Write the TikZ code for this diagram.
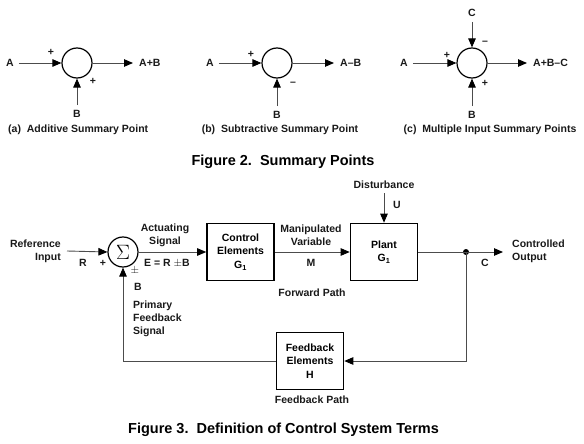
\documentclass[tikz,border=0pt]{standalone}
\usepackage{fontspec}
\setmainfont{Liberation Sans}
\usetikzlibrary{arrows.meta}
\tikzset{
	lbl/.style={font=\fontsize{10.5}{13}\selectfont\bfseries, text=black!90, inner sep=0pt},
	figcap/.style={font=\fontsize{14.5}{17}\selectfont\bfseries, inner sep=0pt},
	sumpt/.style={draw, circle, line width=1.2pt, minimum size=30pt, inner sep=0pt},
	blk/.style={draw, line width=1.6pt, minimum width=67pt, minimum height=57pt, inner sep=0pt, align=center,
		font=\fontsize{10.5}{13.5}\selectfont\bfseries},
	wire/.style={line width=0.9pt, draw=black!70},
	sig/.style={wire, -{Triangle[length=9pt,width=7.5pt,color=black]}},
}
\begin{document}
\begin{tikzpicture}[x=1pt,y=-1pt]
	\useasboundingbox (0,0) rectangle (584,444);
	
	% (a) additive
	\def\ya{63}
	\node[sumpt] (sa) at (77,\ya) {};
	\node[lbl] (aA) at (10,\ya) {A};
	\node[lbl, anchor=west] (aAB) at (139,\ya) {A+B};
	\node[lbl] (aB) at (77,114) {B};
	\draw[sig] ([xshift=5pt]aA.east) -- (sa.west);
	\draw[sig] (sa.east) -- ([xshift=-6pt]aAB.west);
	\draw[sig] ([yshift=5pt]aB.north) -- (sa.south);
	\node[lbl] (ap1) at (51,52) {+};
	\node[lbl] (ap2) at (93,81) {+};
	\node[lbl, anchor=west] (acap) at (8,130) {(a)\ \ Additive Summary Point};
	
	% (b) subtractive
	\node[sumpt] (sb) at (277,\ya) {};
	\node[lbl] (bA) at (210,\ya) {A};
	\node[lbl, anchor=west] (bAB) at (340,\ya) {A--B};
	\node[lbl] (bB) at (277,115) {B};
	\draw[sig] ([xshift=5pt]bA.east) -- (sb.west);
	\draw[sig] (sb.east) -- ([xshift=-6pt]bAB.west);
	\draw[sig] ([yshift=5pt]bB.north) -- (sb.south);
	\node[lbl] (bp1) at (251,54) {+};
	\node[lbl] (bm1) at (293,84) {--};
	\node[lbl] (bcap) at (280,130) {(b)\ \ Subtractive Summary Point};
	
	% (c) multiple input
	\node[sumpt] (sc) at (472,\ya) {};
	\node[lbl] (cA) at (404,\ya) {A};
	\node[lbl, anchor=west] (cABC) at (533,\ya) {A+B--C};
	\node[lbl] (cB) at (472,115) {B};
	\node[lbl] (cC) at (472,13) {C};
	\draw[sig] ([xshift=5pt]cA.east) -- (sc.west);
	\draw[sig] (sc.east) -- ([xshift=-6pt]cABC.west);
	\draw[sig] ([yshift=5pt]cB.north) -- (sc.south);
	\draw[sig] ([yshift=-5pt]cC.south) -- (sc.north);
	\node[lbl] (cp1) at (447,55) {+};
	\node[lbl] (cp2) at (485,83) {+};
	\node[lbl] (cm1) at (485,43) {--};
	\node[lbl] (ccap) at (490,130) {(c)\ \ Multiple Input Summary Points};
	
	\node[figcap] (fig2) at (283,162) {Figure 2.\ \ Summary Points};
	
	% Figure 3
	\def\ym{252}
	\node[sumpt] (sigma) at (123,\ym) {\fontsize{22}{22}\selectfont$\Sigma$};
	\node[blk] (ctrl) at (240.5,\ym) {Control\\Elements\\G\textsubscript{1}};
	\node[blk] (plant) at (384,\ym) {Plant\\G\textsubscript{1}};
	\node[blk] (hbox) at (310,361) {Feedback\\Elements\\H};
	\fill (466,\ym) circle (3) coordinate (dot);
	\coordinate (cout) at (503,\ym);
	
	\node[lbl, align=right, anchor=east] (ref) at (61,251) {Reference\\Input};
	\node[lbl] (lR) at (83,263) {R};
	\node[lbl] (lp) at (103,263) {+};
	\node[lbl] (lpm) at (135,271) {$\pm$};
	\node[lbl] (lB) at (138,287) {B};
	\node[lbl, align=left, anchor=north west] (prim) at (133,301) {Primary\\Feedback\\Signal};
	\node[lbl, align=center] (act) at (165,235) {Actuating\\Signal};
	\node[lbl] (eq) at (167,263) {E = R $\pm$B};
	\node[lbl, align=center] (manip) at (311,235) {Manipulated\\Variable};
	\node[lbl] (lM) at (311,263) {M};
	\node[lbl] (fwd) at (312,293) {Forward Path};
	\node[lbl] (dist) at (384,185) {Disturbance};
	\node[lbl] (lU) at (397,205) {U};
	\node[lbl] (lC) at (485,263) {C};
	\node[lbl, align=left, anchor=west] (outp) at (512,251) {Controlled\\Output};
	\node[lbl] (fbp) at (312,400) {Feedback Path};
	
	\draw[sig] ([xshift=6pt]ref.east) -- (sigma.west);
	\draw[sig] (sigma.east) -- (ctrl.west);
	\draw[sig] (ctrl.east) -- (plant.west);
	\draw[sig] ([yshift=-4pt]dist.south) -- (plant.north);
	\draw[wire] (plant.east) -- (dot);
	\draw[sig] (dot) -- (cout);
	\draw[sig] (dot) |- (hbox.east);
	\draw[sig] (hbox.west) -| (sigma.south);
	
	\node[figcap] (fig3) at (283.5,430) {Figure 3.\ \ Definition of Control System Terms};
\end{tikzpicture}
\end{document}
